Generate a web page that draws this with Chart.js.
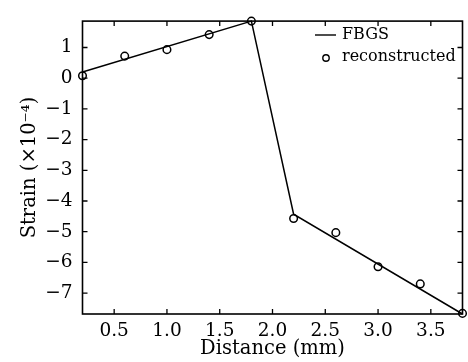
<!DOCTYPE html>
<html lang="en">
<head>
  <meta charset="UTF-8" />
  <title>Strain vs distance</title>
  <script src="https://cdn.jsdelivr.net/npm/chart.js"></script>
  <style>
    html, body { margin: 0; padding: 0; background: #fff; }
    #wrap { width: 468px; height: 362px; }
  </style>
</head>
<body>
  <div id="wrap"><canvas id="strainChart"></canvas></div>

  <script>
    // FBGS measured profile (vertices of the line)
    const fbgsX = [0.2, 1.8, 2.2, 3.8];
    const fbgsY = [0.2, 1.86, -4.43, -7.68];

    // reconstructed points
    const reconX = [0.2, 0.6, 1.0, 1.4, 1.8, 2.2, 2.6, 3.0, 3.4, 3.8];
    const reconY = [0.08, 0.72, 0.93, 1.42, 1.86, -4.57, -5.03, -6.14, -6.70, -7.66];

    const xTicks = [0.5, 1.0, 1.5, 2.0, 2.5, 3.0, 3.5];
    const yTicks = [-7, -6, -5, -4, -3, -2, -1, 0, 1];

    const serif = 'DejaVu Serif';

    // frame, inward ticks on all four sides, and the legend inside the plot
    const frameAndLegend = {
      id: 'frameAndLegend',
      afterDraw(chart) {
        const { ctx, chartArea: a, scales: { x, y } } = chart;
        ctx.save();
        ctx.strokeStyle = '#000';
        ctx.lineWidth = 1.6;
        ctx.strokeRect(a.left, a.top, a.width, a.height);

        ctx.lineWidth = 1.3;
        ctx.beginPath();
        x.ticks.forEach(t => {
          const px = x.getPixelForValue(t.value);
          ctx.moveTo(px, a.bottom); ctx.lineTo(px, a.bottom - 5);
          ctx.moveTo(px, a.top); ctx.lineTo(px, a.top + 5);
        });
        y.ticks.forEach(t => {
          const py = y.getPixelForValue(t.value);
          ctx.moveTo(a.left, py); ctx.lineTo(a.left + 5, py);
          ctx.moveTo(a.right, py); ctx.lineTo(a.right - 5, py);
        });
        ctx.stroke();

        // legend
        const ds = chart.data.datasets;
        ctx.fillStyle = '#000';
        ctx.font = '16px "' + serif + '"';
        ctx.textBaseline = 'middle';
        ctx.lineWidth = 1.4;
        ctx.beginPath();
        ctx.moveTo(315, 35); ctx.lineTo(336, 35);
        ctx.stroke();
        ctx.fillText(ds[0].label, 342, 35);
        ctx.beginPath();
        ctx.arc(326, 58, 3.2, 0, Math.PI * 2);
        ctx.stroke();
        ctx.fillText(ds[1].label, 342, 57);
        ctx.restore();
      }
    };

    new Chart(document.getElementById('strainChart'), {
      type: 'scatter',
      data: {
        datasets: [
          {
            label: 'FBGS',
            data: fbgsX.map((v, i) => ({ x: v, y: fbgsY[i] })),
            showLine: true,
            borderColor: '#000',
            borderWidth: 1.5,
            pointRadius: 0,
            fill: false
          },
          {
            label: 'reconstructed',
            data: reconX.map((v, i) => ({ x: v, y: reconY[i] })),
            showLine: false,
            pointStyle: 'circle',
            pointRadius: 3.8,
            pointBorderWidth: 1.5,
            borderColor: '#000',
            backgroundColor: 'rgba(0,0,0,0)'
          }
        ]
      },
      options: {
        responsive: true,
        maintainAspectRatio: false,
        animation: false,
        clip: false,
        layout: { padding: { top: 12.5, right: 1, left: 0, bottom: 0 } },
        plugins: {
          legend: { display: false },
          tooltip: { enabled: false }
        },
        scales: {
          x: {
            type: 'linear',
            min: 0.2,
            max: 3.8,
            grid: { display: false, drawTicks: false },
            border: { display: false },
            afterBuildTicks: s => { s.ticks = xTicks.map(v => ({ value: v })); },
            afterFit: s => { s.height = 48; },
            ticks: {
              color: '#000',
              padding: 6,
              font: { family: serif, size: 18.5 },
              callback: v => Number(v).toFixed(1)
            },
            title: {
              display: true,
              text: 'Distance (mm)',
              color: '#000',
              font: { family: serif, size: 19.5 },
              padding: { top: 0, bottom: 1 }
            }
          },
          y: {
            type: 'linear',
            min: -7.68,
            max: 1.86,
            grid: { display: false, drawTicks: false },
            border: { display: false },
            afterBuildTicks: s => { s.ticks = yTicks.map(v => ({ value: v })); },
            afterFit: s => { s.width = 82.5; },
            ticks: {
              color: '#000',
              padding: 10,
              font: { family: serif, size: 18.5 },
              callback: v => String(v).replace('-', '\u2212')
            },
            title: {
              display: true,
              text: 'Strain (\u00d710\u207b\u2074)',
              color: '#000',
              font: { family: serif, size: 19.5 },
              padding: { top: 18, bottom: 0 }
            }
          }
        }
      },
      plugins: [frameAndLegend]
    });
  </script>
</body>
</html>
